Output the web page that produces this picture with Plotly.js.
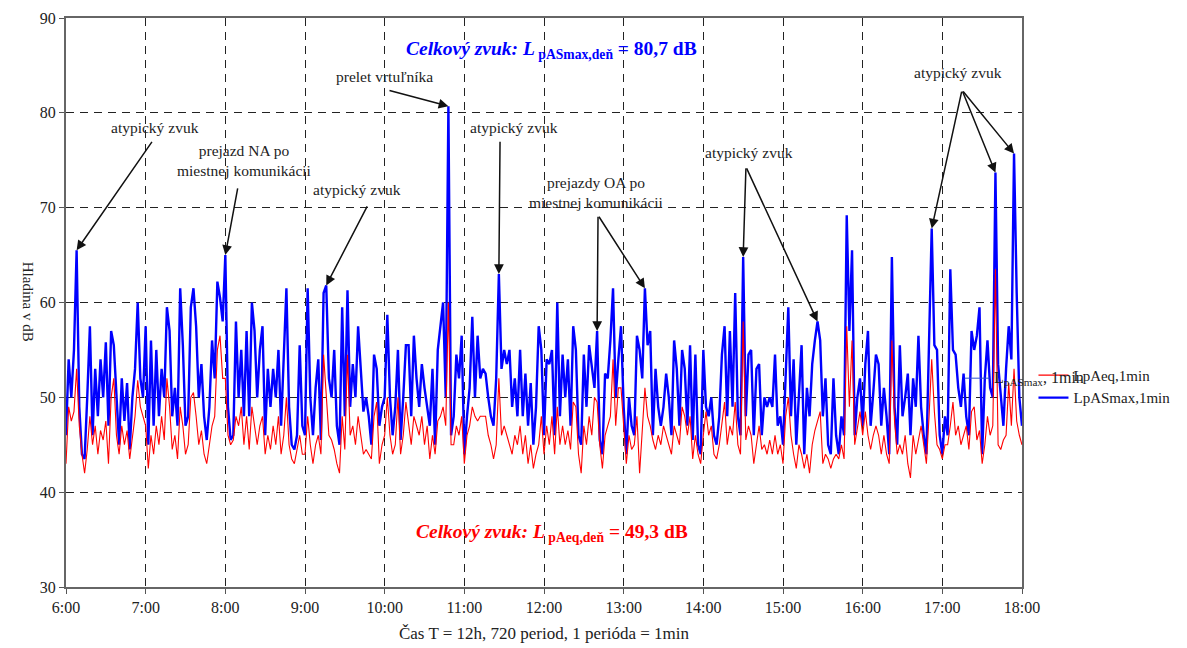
<!DOCTYPE html>
<html><head><meta charset="utf-8">
<script src="https://cdn.plot.ly/plotly-3.0.1.min.js"></script>
<style>html,body{margin:0;padding:0;background:#fff;} #chart{width:1187px;height:648px;}</style>
</head><body><div id="chart"></div>
<script>
// time axis: minutes since midnight, one value every 2 minutes from 6:00 to 18:00
const startMin = 360;
const stepMin = 2;

// LpASmax,1min (blue), hour by hour
const lpASmax = [
  46, 54, 50, 55, 65.5, 49, 44, 43.5, 50, 57.5, 46, 53, 48, 54, 50, 55.8, 47, 57, 55.5, 50, 45, 52, 47.5, 51.5, 44.5, 50, 53, 60, 52, 50,
  57.5, 45, 56, 47, 55, 48, 53, 50, 59.5, 57, 48, 51, 47, 61.5, 55.5, 47, 48, 59.5, 61.5, 57.5, 50, 53.5, 48, 45.5, 49, 56, 52, 62.2, 60.5, 58,
  65, 49, 45.5, 46, 58, 50, 55, 48, 57, 48, 60, 57, 50, 55, 57.5, 46, 53, 49, 53, 50, 55, 47, 55, 61.5, 49, 45, 44.5, 46, 55.5, 47,
  46, 61.5, 50, 46, 51, 54, 45.5, 61, 61.8, 52, 50, 55, 47, 45, 59.5, 48, 61.3, 49, 53.5, 50, 57.5, 53, 48.5, 50, 48, 45, 54.5, 53, 47, 49,
  50, 58.7, 50, 46, 49, 55, 45.5, 50, 55.5, 55.5, 48, 56.5, 52, 49, 53.5, 51, 49, 47, 53, 45, 55, 57.5, 60, 50, 80.7, 46, 48, 54.5, 52, 56.5,
  44, 48, 51, 58.5, 50, 56.5, 52, 53, 52.5, 50, 48, 47, 52, 63, 53, 55, 53.5, 55, 49, 52, 48, 55, 48, 52.5, 47, 51.5, 45, 49, 57.5, 55,
  46, 54, 53.5, 55, 46, 60, 48, 54.5, 50, 54, 47, 57.5, 55, 46, 45, 54.5, 49, 55.5, 53.5, 51, 57, 45.5, 44, 52.5, 52, 56, 61.5, 50, 54, 57.5,
  49, 44, 50, 47, 46, 56.5, 55, 52, 61.5, 55.5, 57, 46, 53, 49, 47, 49, 52.5, 50, 46, 56, 53, 47, 55, 53, 47, 55.5, 45.5, 54.5, 45, 44,
  55, 49, 48, 50, 46, 45, 48, 54.5, 57.5, 48, 57, 49, 61, 48, 46, 64.8, 48, 54.5, 55, 46, 53, 53.5, 46, 50, 49, 50, 49, 54.5, 47, 48,
  45, 53, 59.5, 48, 54, 45, 51, 55.5, 44, 51, 48, 53.5, 56, 58, 56, 48, 52, 45, 44, 52, 46, 44, 48, 46, 69.2, 57, 65.5, 46, 50, 52,
  47, 53.5, 57, 47, 50.5, 54.5, 53.5, 47, 51, 48, 44, 64.8, 49, 45, 55.5, 48, 50, 52.5, 46, 52, 49, 56.5, 49, 46, 44, 56, 67.8, 55.5, 55, 46,
  44, 48, 46, 63.5, 55, 54.5, 51, 49, 52.5, 48, 46, 57, 55, 56.5, 59.5, 44, 52, 56, 51, 50, 73.7, 53.5, 50, 47, 53, 57.5, 54, 75.7, 61, 50,
  47
];

// LpAeq,1min (red), hour by hour
const lpAeq = [
  43, 49, 47.5, 48.5, 53, 47, 44, 42, 44.5, 48, 45, 47, 44, 46.5, 45.5, 47.5, 43, 50, 52, 46, 44, 47, 45, 46.5, 43.5, 46, 48, 51.8, 49, 48,
  47, 42.5, 46, 44, 47, 45, 48, 45.5, 52, 49, 44.5, 46, 43.5, 49, 47, 44, 45, 50, 50.5, 48, 45, 46.5, 44, 43, 45, 47, 48, 55, 56.5, 52,
  52, 46, 45, 45.5, 48, 47, 49, 45, 48, 44.5, 49, 47, 45, 47, 48, 44, 46, 44.5, 47, 45, 48, 44, 46, 50, 45, 43.5, 43, 44.5, 46, 44,
  44, 48, 45, 43, 45, 46, 44, 54.5, 50, 46, 45.5, 44.5, 43, 42, 48, 44.5, 54.5, 46, 47, 45, 48, 46, 44, 44.5, 44, 43.5, 48, 49.5, 43, 45,
  46, 50, 46, 44, 45, 50, 44, 46, 49.5, 47, 45, 48, 47, 46, 48, 45, 47, 43.5, 46, 44, 47.5, 48, 49, 47, 60, 45, 45, 47, 46, 48,
  43, 46, 47, 49, 48, 47.5, 48, 48, 48, 46, 45, 43.5, 45, 52, 46, 47, 46, 45, 44, 46, 45, 47, 44, 46, 43, 45, 42.5, 44, 45, 48,
  44, 47, 45, 48, 44, 49, 45, 47, 45, 46.5, 44.5, 49.5, 49, 44, 42, 47, 45, 48, 46, 50, 49.5, 45, 42.5, 46, 47, 48, 54, 47, 51, 51,
  47, 43, 46, 44.5, 45, 48, 42, 46, 51, 48, 47, 45.5, 44.5, 46, 45, 47, 46, 45, 44, 47, 46, 45, 49, 48, 46, 48, 43.5, 46, 44, 43,
  46, 48.5, 46, 47, 44, 43.5, 45, 47, 49.5, 45, 47, 46, 49.5, 45, 44, 58, 45.5, 47, 46, 43, 45, 47, 44.5, 45, 44, 45.5, 44, 46, 44, 45,
  43, 48, 50, 46, 44, 42.5, 45, 44, 42.5, 44, 42, 45, 46.5, 47.5, 48.5, 43, 44, 43.5, 42.5, 43.5, 44, 43.5, 45, 43.5, 57.5, 49, 56, 45, 47, 48.5,
  46, 48.5, 46, 44.5, 46, 47, 46, 44, 46, 44, 43, 56, 47.5, 44, 45, 44, 46, 43, 41.5, 46, 44, 45.5, 47, 45, 43, 48, 54, 48.5, 45, 44.5,
  43.5, 45, 45, 47, 49.5, 46, 47, 45, 46, 47, 44.5, 48.5, 49, 45.5, 46.5, 43, 45, 48, 46, 47, 63.5, 45, 44.5, 45.5, 46, 51.5, 47, 53, 47.5, 46,
  45
];

const tickVals = [360, 420, 480, 540, 600, 660, 720, 780, 840, 900, 960, 1020, 1080];
const tickText = ["6:00", "7:00", "8:00", "9:00", "10:00", "11:00", "12:00", "13:00", "14:00", "15:00", "16:00", "17:00", "18:00"];
const seriesNames = ["LpASmax,1min", "LpAeq,1min"];

const xs = lpASmax.map((_, i) => startMin + i * stepMin);

const FONT = 'Liberation Serif';

const traces = [
  {x: xs, y: lpASmax, type: 'scatter', mode: 'lines', name: seriesNames[0],
   line: {color: '#0000ff', width: 2.4}},
  {x: xs, y: lpAeq, type: 'scatter', mode: 'lines', name: seriesNames[1],
   line: {color: '#ff0000', width: 1.1}}
];

// labels (text, anchor in data coords)
const labels = [
  {t: 'atypický zvuk', x: 427, y: 78.5},
  {t: 'prejazd NA po<br>miestnej komunikácii', x: 494.8, y: 75.0},
  {t: 'atypický zvuk', x: 579.2, y: 71.9},
  {t: 'prelet vrtuľníka', x: 599.5, y: 83.8},
  {t: 'atypický zvuk', x: 697.4, y: 78.5},
  {t: 'prejazdy OA po<br>miestnej komunikácii', x: 759.9, y: 71.65},
  {t: 'atypický zvuk', x: 874.4, y: 75.8},
  {t: 'atypický zvuk', x: 1031.8, y: 84.3}
];
// arrows: tail position + index of the data point it points at
const arrows = [
  {ax: 425.5, ay: 77.1, i: 4},
  {ax: 489.5, ay: 72.2, i: 60},
  {ax: 587.4, ay: 70.3, i: 98},
  {ax: 602.5, ay: 82.4, i: 144},
  {ax: 686.9, ay: 77.1, i: 163},
  {ax: 760.7, ay: 69.2, i: 200},
  {ax: 760.7, ay: 69.2, i: 218},
  {ax: 872.1, ay: 74.3, i: 255},
  {ax: 872.1, ay: 74.3, i: 283},
  {ax: 1034.8, ay: 82.4, i: 326},
  {ax: 1034.8, ay: 82.4, i: 350},
  {ax: 1034.8, ay: 82.4, i: 357}
];

const annotations = [];
labels.forEach(l => annotations.push({
  x: l.x, y: l.y, xref: 'x', yref: 'y', text: l.t, showarrow: false,
  font: {family: FONT, size: 15.5, color: '#222'}, align: 'center'
}));
arrows.forEach(a => annotations.push({
  x: xs[a.i], y: lpASmax[a.i], xref: 'x', yref: 'y', ax: a.ax, ay: a.ay, axref: 'x', ayref: 'y',
  text: '', showarrow: true, arrowhead: 2, arrowsize: 1.3, arrowwidth: 1.5, arrowcolor: '#111', standoff: 0
}));
annotations.push({
  xref: 'paper', yref: 'paper', x: 0.508, y: 0.968, showarrow: false,
  text: '<b><i>Celkový zvuk: L</i><sub> pASmax,deň</sub> = 80,7 dB</b>',
  font: {family: FONT, size: 19.5, color: '#0000ff'}
});
annotations.push({
  xref: 'paper', yref: 'paper', x: 0.508, y: 0.070, showarrow: false,
  text: '<b><i>Celkový zvuk: L</i><sub> pAeq,deň</sub> = 49,3 dB</b>',
  font: {family: FONT, size: 19.5, color: '#ff0000'}
});
annotations.push({
  xref: 'paper', yref: 'paper', x: 0.969, y: 0.367, xanchor: 'left', showarrow: false,
  text: 'L<sub>pASmax</sub>, 1min',
  font: {family: FONT, size: 16, color: '#222'}
});
// y-axis title, reading top to bottom as in the reference
annotations.push({
  xref: 'paper', yref: 'paper', x: -0.050, y: 0.501, showarrow: false, textangle: 90,
  text: 'Hladina v dB', font: {family: FONT, size: 15, color: '#222'}
});

const layout = {
  width: 1187, height: 648,
  margin: {l: 66, r: 165, t: 18, b: 61},
  paper_bgcolor: '#fff', plot_bgcolor: '#fff',
  font: {family: FONT, size: 16, color: '#222'},
  showlegend: true,
  legend: {x: 1.012, xanchor: 'left', y: 0.401, yanchor: 'top', traceorder: 'reversed',
           bgcolor: 'rgba(0,0,0,0)', font: {family: FONT, size: 15, color: '#222'}, tracegroupgap: 0},
  xaxis: {range: [360, 1080], tickvals: tickVals, ticktext: tickText,
          showgrid: true, gridcolor: '#222', griddash: '8px,6px', gridwidth: 1,
          showline: true, linecolor: '#666', linewidth: 2, mirror: true,
          ticks: 'outside', ticklen: 5, tickcolor: '#555',
          zeroline: false, tickfont: {family: FONT, size: 16, color: '#222'},
          title: {text: 'Čas T = 12h, 720 period, 1 perióda = 1min', standoff: 12,
                  font: {family: FONT, size: 17, color: '#222'}}},
  yaxis: {range: [30, 90], dtick: 10, tick0: 30,
          showgrid: true, gridcolor: '#222', griddash: '8px,6px', gridwidth: 1,
          showline: true, linecolor: '#666', linewidth: 2, mirror: true,
          ticks: 'outside', ticklen: 5, tickcolor: '#555',
          zeroline: false, tickfont: {family: FONT, size: 16, color: '#222'}},
  annotations: annotations,
  shapes: [{type: 'line', xref: 'paper', yref: 'paper', x0: 0.940, x1: 0.966, y0: 0.367, y1: 0.367,
            line: {color: '#3050d0', width: 1}}]
};

Plotly.newPlot('chart', traces, layout, {displayModeBar: false, staticPlot: true});
</script>
</body></html>
